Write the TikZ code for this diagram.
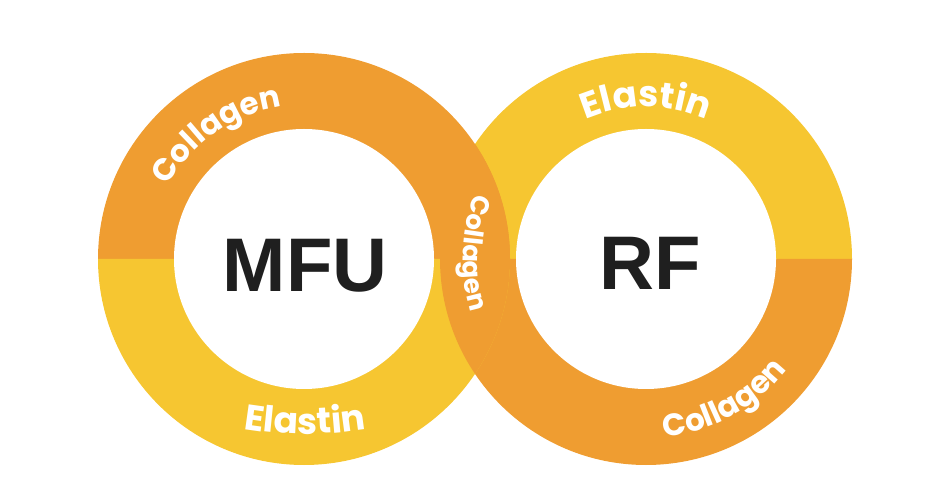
\documentclass[tikz,border=0pt]{standalone}
\usepackage{fontspec}
\usetikzlibrary{calc,decorations.text}
\setmainfont{Liberation Sans}
\newfontfamily\ringfont{Poppins}
\definecolor{ringorange}{RGB}{239,157,49}
\definecolor{ringyellow}{RGB}{246,198,49}
\newcommand\collagenfont{\ringfont\bfseries\fontsize{31}{31}\selectfont}
\newcommand\elastinfont{\ringfont\bfseries\fontsize{36}{36}\selectfont}
\newcommand\linkfont{\ringfont\bfseries\fontsize{26}{26}\selectfont}

\begin{document}
\begin{tikzpicture}[x=1pt,y=1pt,
    bandtext/.style={decorate,decoration={text along path,text align=center,text color=white,text={#1}}},
    core/.style={font=\bfseries\fontsize{76}{76}\selectfont,text=black!88,inner sep=0pt,anchor=base}]
  \useasboundingbox (0,0) rectangle (933,503);
  \coordinate (mfu) at (304,244);
  \coordinate (rf) at (646,244);
  % RF ring
  \fill[ringyellow] ($(rf)+(206,0)$) arc[start angle=0,end angle=180,radius=206] -- cycle;
  \fill[ringorange] ($(rf)+(-206,0)$) arc[start angle=180,end angle=360,radius=206] -- cycle;
  % MFU ring
  \fill[ringorange] ($(mfu)+(206,0)$) arc[start angle=0,end angle=180,radius=206] -- cycle;
  \fill[ringyellow] ($(mfu)+(-206,0)$) arc[start angle=180,end angle=360,radius=206] -- cycle;
  % link between the rings
  \begin{scope}
    \clip (mfu) circle[radius=206];
    \fill[ringorange] (rf) circle[radius=206];
  \end{scope}
  \fill[white] (mfu) circle[radius=130];
  \fill[white] (rf) circle[radius=130];
  \node[core] (mfulabel) at (305,211) {MFU};
  \node[core] (rflabel) at (650,213) {RF};
  % band labels
  \path[bandtext={|\collagenfont|Collagen}] ($(mfu)+(175:154)$) arc[start angle=175,end angle=75,radius=154];
  \path[bandtext={|\elastinfont|Elastin}] ($(mfu)+(1,200)+(245:375)$) arc[start angle=245,end angle=295,radius=375];
  \path[bandtext={|\linkfont|Collagen}] ($(rf)+(140:183)$) arc[start angle=140,end angle=216,radius=183];
  \path[bandtext={|\elastinfont|Elastin}] ($(rf)+(140:152)$) arc[start angle=140,end angle=40,radius=152];
  \path[bandtext={|\collagenfont|Collagen}] ($(rf)+(-110:179)$) arc[start angle=-110,end angle=-12,radius=179];
\end{tikzpicture}
\end{document}
